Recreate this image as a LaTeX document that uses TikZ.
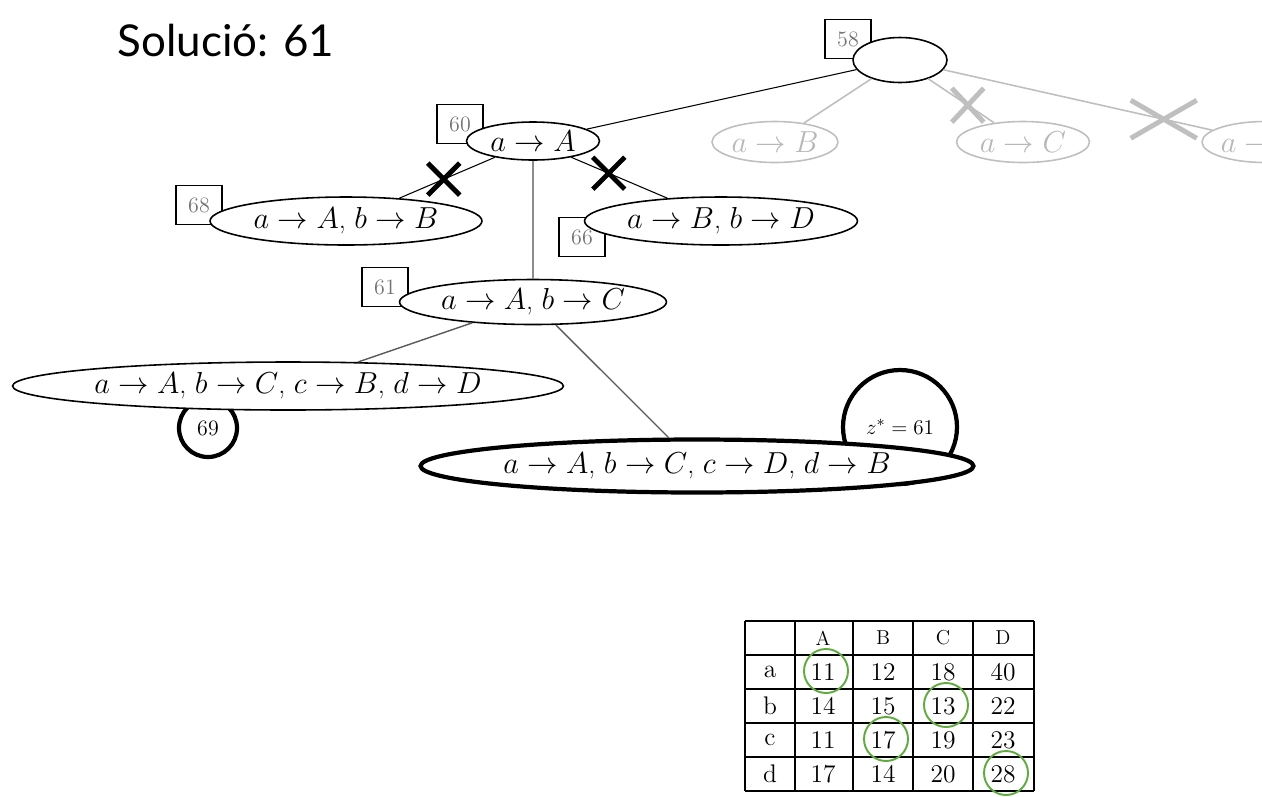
\documentclass[tikz,border=0pt]{standalone}
\usepackage{fontspec}
\newfontfamily\titlefont{Lato}
\usetikzlibrary{calc,shapes.geometric}
\definecolor{ringgreen}{RGB}{96,170,64}

\begin{document}
\begin{tikzpicture}[x=0.02cm,y=-0.02cm,
  state/.style={ellipse,draw,fill=white,line width=0.9pt,inner sep=0pt,font=\fontsize{16}{20}\selectfont},
  faded/.style={state,draw=black!25,text=black!28},
  best/.style={state,line width=2.4pt},
  bound/.style={draw,line width=0.8pt,minimum width=0.92cm,minimum height=0.78cm,inner sep=0pt,text=black!55,font=\fontsize{12.5}{15}\selectfont},
  leafval/.style={circle,draw,line width=2.4pt,inner sep=0pt,font=\fontsize{12.5}{15}\selectfont},
  fadeline/.style={black!25,line width=0.9pt},
  cut/.style={line width=2.8pt},
  ring/.style={circle,draw=ringgreen,line width=1.1pt,minimum size=0.88cm,inner sep=0pt},
  cell/.style={font=\fontsize{14.5}{17}\selectfont}]
\useasboundingbox (0,0) rectangle (1262,796);
\clip (0,0) rectangle (1262,796);

\node[font=\titlefont\fontsize{25}{30}\selectfont] (title) at (226,40) {Solució: 61};

\node[bound] (b58) at (848,39) {58};
\node[bound] (b60) at (460,124) {60};
\node[bound] (b68) at (199,205) {68};
\node[bound] (b66) at (582,237) {66};
\node[bound] (b61) at (385,287) {61};
\node[leafval,minimum size=1.16cm] (v69) at (208,428) {69};
\node[leafval,minimum size=2.28cm] (zst) at (900,427) {$z^*=61$};

\node[state,minimum width=1.88cm,minimum height=0.9cm] (root) at (900,60) {};
\node[state,minimum width=2.66cm,minimum height=0.76cm] (aA) at (533,141) {$a\rightarrow A$};
\node[faded,minimum width=2.52cm,minimum height=0.82cm] (aB) at (775,142) {$a\rightarrow B$};
\node[faded,minimum width=2.66cm,minimum height=0.82cm] (aC) at (1023,142) {$a\rightarrow C$};
\node[faded,minimum width=2.52cm,minimum height=0.82cm] (aD) at (1265,142) {$a\rightarrow D$};
\node[state,minimum width=5.44cm,minimum height=0.96cm] (aAB) at (346,221) {$a\rightarrow A$, $b\rightarrow B$};
\node[state,minimum width=5.46cm,minimum height=0.96cm] (aBD) at (721,221) {$a\rightarrow B$, $b\rightarrow D$};
\node[state,minimum width=5.34cm,minimum height=0.9cm] (aAC) at (533,302) {$a\rightarrow A$, $b\rightarrow C$};
\node[state,minimum width=11.02cm,minimum height=0.96cm] (leafL) at (288,386) {$a\rightarrow A$, $b\rightarrow C$, $c\rightarrow B$, $d\rightarrow D$};
\node[best,minimum width=11.06cm,minimum height=1.06cm] (leafR) at (697,466) {$a\rightarrow A$, $b\rightarrow C$, $c\rightarrow D$, $d\rightarrow B$};

\draw[line width=0.6pt] (root) -- (aA);
\draw[fadeline] (root) -- (aB);
\draw[fadeline] (root) -- coordinate[pos=0.6] (xC) (aC);
\draw[fadeline] (root) -- coordinate[pos=0.82] (xD) (aD);
\draw[line width=0.6pt] (aA) -- coordinate[pos=0.535] (xL) (aAB);
\draw[line width=0.6pt] (aA) -- coordinate[pos=0.39] (xR) (aBD);
\draw[black!45,line width=1.2pt] (aA) -- (aAC);
\draw[black!65,line width=0.8pt] (aAC) -- (leafL);
\draw[black!65,line width=0.8pt] (aAC) -- (leafR);
\foreach \c/\w/\h/\col in {xL/16/16/black, xR/16/16/black, xC/16/17/black!25, xD/33/19/black!25}
  \draw[cut,\col] ($(\c)+(-\w,-\h)$) -- ($(\c)+(\w,\h)$) ($(\c)+(-\w,\h)$) -- ($(\c)+(\w,-\h)$);

\foreach \x in {745,795,853,913,973,1034}
  \draw[line width=0.8pt] (\x,621) -- (\x,791);
\foreach \y in {621,655,689,723,757,791}
  \draw[line width=0.8pt] (745,\y) -- (1034,\y);
\foreach \h [count=\j] in {A,B,C,D}
  \node[font=\fontsize{11.5}{13}\selectfont] (h\j) at (763+60*\j,638) {\h};
\foreach \r/\vals [count=\i] in {a/{11,12,18,40},b/{14,15,13,22},c/{11,17,19,23},d/{17,14,20,28}} {
  \node[cell] (r\i) at (770,638+34*\i) {\r};
  \foreach \v [count=\j] in \vals
    \node[cell] (t\i\j) at (763+60*\j,638+34*\i) {\v};
}
\foreach \k in {t11,t23,t32,t44}
  \node[ring] (g\k) at ($(\k)+(3,-1)$) {};
\end{tikzpicture}
\end{document}
